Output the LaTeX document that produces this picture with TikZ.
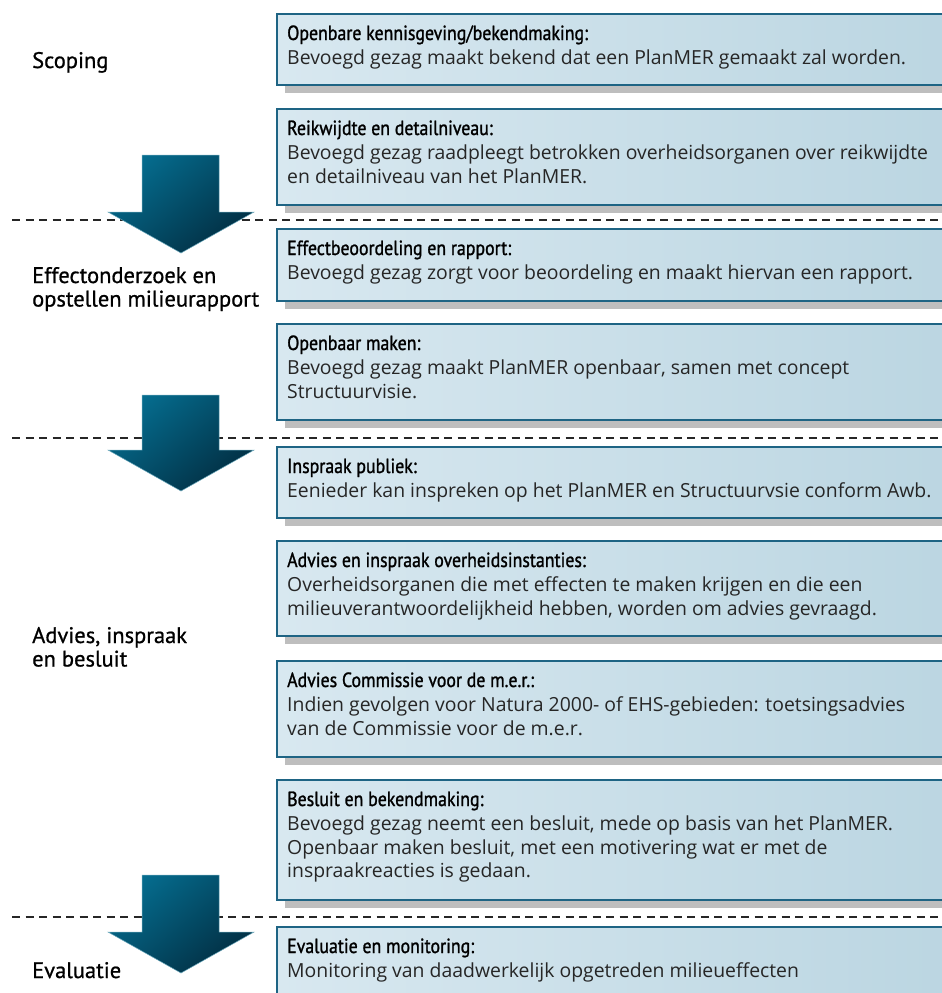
\documentclass[tikz,border=0pt]{standalone}
\usepackage{fontspec}
\setmainfont{Open Sans}
\newfontfamily\ttlfont[FakeBold=1.2,FakeStretch=0.87]{PT Sans}
\newfontfamily\lblfont[FakeBold=0.8]{PT Sans}
\usetikzlibrary{shadows}
\definecolor{boxL}{RGB}{216,232,240}
\definecolor{boxR}{RGB}{186,213,225}
\definecolor{boxB}{RGB}{30,100,132}
\definecolor{shd}{RGB}{190,190,190}
\definecolor{arL}{RGB}{5,108,142}
\definecolor{arD}{RGB}{2,46,66}
\definecolor{bodyc}{RGB}{38,38,38}
\tikzset{
 panel/.style={draw=boxB, line width=1.5pt, left color=boxL, right color=boxR,
   minimum width=700pt, anchor=north west, inner sep=0pt,
   drop shadow={shadow xshift=8pt, shadow yshift=-8pt, fill=shd, opacity=1}},
 ttl/.style={anchor=base west, inner sep=0pt, font=\ttlfont\fontsize{20.5}{22}\selectfont},
 bdy/.style={anchor=base west, inner sep=0pt, font=\fontsize{19.4}{23.5}\selectfont, text=bodyc},
 lbl/.style={anchor=base west, inner sep=0pt, font=\lblfont\fontsize{22.5}{23.5}\selectfont},
 sepline/.style={dash pattern=on 8pt off 5.5pt, line width=1.2pt, draw=black!85},
 bigarrow/.style={top color=arL, bottom color=arD, shading angle=40, draw=arL!60!white, line width=0.5pt}
}
\newcommand\panelbox[5]{%
 \node[panel, minimum height=#3pt] (#1) at (276,#2) {};
 \node[ttl] (#1t) at (287,#2+27) {#4};
 \node[bdy] (#1b) at (287,#2+51.5) {\parbox[t]{720pt}{\raggedright #5}};
}
\begin{document}
\begin{tikzpicture}[x=1pt,y=-1pt]
\useasboundingbox (0,0) rectangle (942,993);
\clip (0,0) rectangle (942,993);
% separators
\coordinate (s1l) at (12,220); \coordinate (s1r) at (942,220);
\coordinate (s2l) at (12,438); \coordinate (s2r) at (942,438);
\coordinate (s3l) at (12,917); \coordinate (s3r) at (942,917);
\draw[sepline] (s1l) -- (s1r);
\draw[sepline] (s2l) -- (s2r);
\draw[sepline] (s3l) -- (s3r);
% panels
\panelbox{p1}{13}{71}{Openbare kennisgeving/bekendmaking:}{Bevoegd gezag maakt bekend dat een PlanMER gemaakt zal worden.}
\panelbox{p2}{108}{96}{Reikwijdte en detailniveau:}{Bevoegd gezag raadpleegt betrokken overheidsorganen over reikwijdte\\en detailniveau van het PlanMER.}
\panelbox{p3}{228}{72}{Effectbeoordeling en rapport:}{Bevoegd gezag zorgt voor beoordeling en maakt hiervan een rapport.}
\panelbox{p4}{323}{96}{Openbaar maken:}{Bevoegd gezag maakt PlanMER openbaar, samen met concept\\Structuurvisie.}
\panelbox{p5}{446}{71}{Inspraak publiek:}{Eenieder kan inspreken op het PlanMER en Structuurvsie conform Awb.}
\panelbox{p6}{540}{95}{Advies en inspraak overheidsinstanties:}{Overheidsorganen die met effecten te maken krijgen en die een\\milieuverantwoordelijkheid hebben, worden om advies gevraagd.}
\panelbox{p7}{660}{96}{Advies Commissie voor de m.e.r.:}{Indien gevolgen voor Natura 2000- of EHS-gebieden: toetsingsadvies\\van de Commissie voor de m.e.r.}
\panelbox{p8}{779}{120}{Besluit en bekendmaking:}{Bevoegd gezag neemt een besluit, mede op basis van het PlanMER.\\Openbaar maken besluit, met een motivering wat er met de\\inspraakreacties is gedaan.}
\panelbox{p9}{926}{80}{Evaluatie en monitoring:}{Monitoring van daadwerkelijk opgetreden milieueffecten}
% arrows
\path[bigarrow] (142,155) -- (219,155) -- (219,212) -- (254,212) -- (181,253) -- (108,212) -- (142,212) -- cycle;
\path[bigarrow] (142,395) -- (219,395) -- (219,450) -- (254,450) -- (181,491) -- (108,450) -- (142,450) -- cycle;
\path[bigarrow] (142,875) -- (219,875) -- (219,932) -- (254,932) -- (181,973) -- (108,932) -- (142,932) -- cycle;
% phase labels
\node[lbl] (l1) at (32,68) {Scoping};
\node[lbl] (l2) at (32,283) {\parbox[t]{240pt}{\raggedright Effectonderzoek en\\opstellen milieurapport}};
\node[lbl] (l3) at (32,643) {\parbox[t]{240pt}{\raggedright Advies, inspraak\\en besluit}};
\node[lbl] (l4) at (32,978) {Evaluatie};
\end{tikzpicture}
\end{document}
